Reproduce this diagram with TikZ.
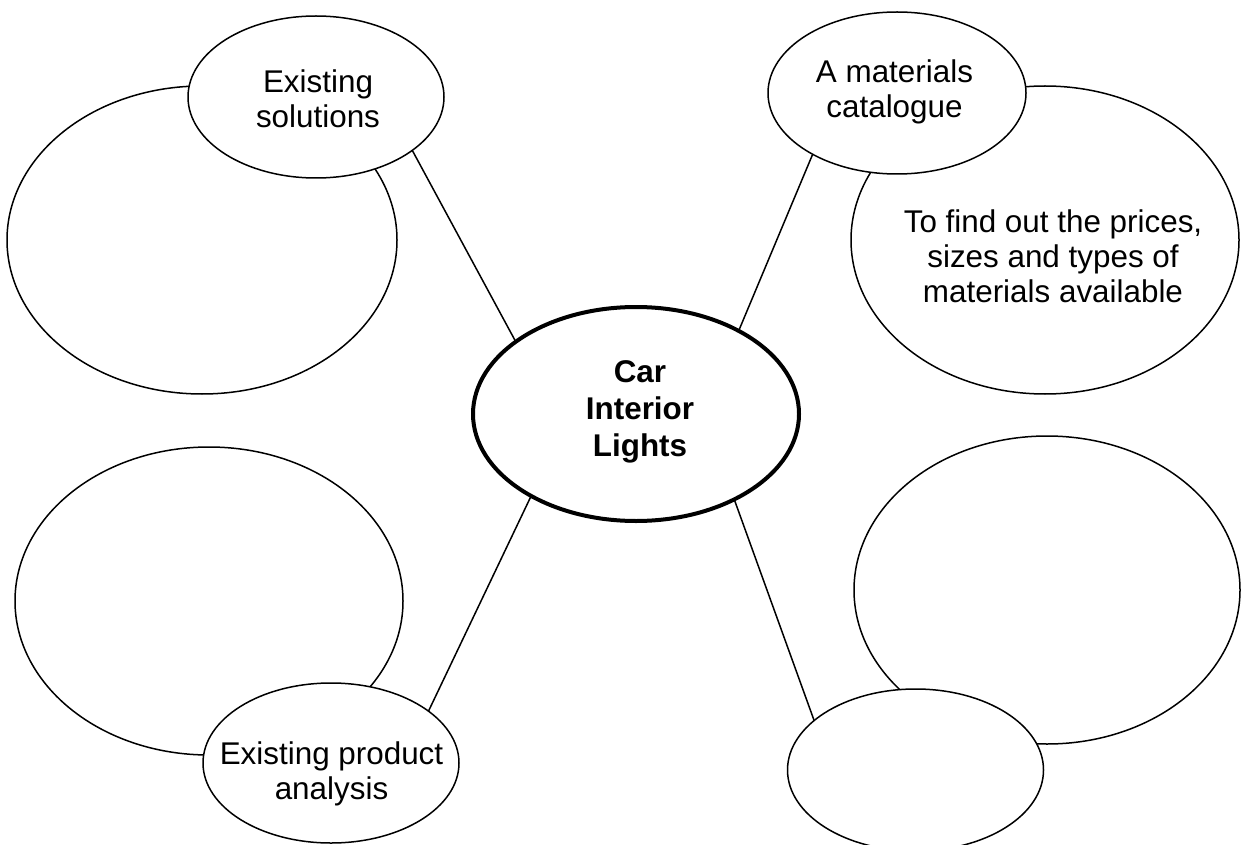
\documentclass[tikz,border=0pt]{standalone}
\usepackage{fontspec}
\setmainfont{Liberation Sans}
\usetikzlibrary{shapes.geometric}
\begin{document}
\begin{tikzpicture}[x=0.5pt,y=-0.5pt,
  bub/.style={ellipse,draw,line width=0.75pt,fill=white,inner sep=0pt,outer sep=0pt},
  hub/.style={bub,line width=2pt},
  lbl/.style={font=\fontsize{15.7}{17.4}\selectfont,align=center,inner sep=0pt},
  hublbl/.style={font=\fontsize{15.7}{18.5}\selectfont\bfseries,align=center,inner sep=0pt},
  link/.style={line width=0.75pt}]
\useasboundingbox (0,0) rectangle (1241,845);
% large blank bubbles
\node[bub,minimum width=195pt,minimum height=154pt] (bigtl) at (202,240) {};
\node[bub,minimum width=194pt,minimum height=154pt] (bigtr) at (1045,240) {};
\node[bub,minimum width=194pt,minimum height=154pt] (bigbl) at (209,601) {};
\node[bub,minimum width=193pt,minimum height=154pt] (bigbr) at (1047,590) {};
% small bubbles
\node[bub,minimum width=128pt,minimum height=81pt] (tl) at (316,97) {};
\node[bub,minimum width=129pt,minimum height=81pt] (tr) at (897,93) {};
\node[bub,minimum width=128pt,minimum height=80pt] (bl) at (331,763) {};
\node[bub,minimum width=128pt,minimum height=81pt] (br) at (915.5,770) {};
% centre
\node[hub,minimum width=163pt,minimum height=107pt] (c) at (636,414) {};
% connectors
\draw[link] (tl.-29) -- (c.149);
\draw[link] (tr.216) -- (c.39);
\draw[link] (c.218.5) -- (bl.28);
\draw[link] (c.-41.7) -- (br.154.4);
% texts
\node[lbl] (ttl) at (318,98.5) {Existing\\solutions};
\node[lbl] (ttr) at (894.5,91.5) {A materials\\catalogue};
\node[lbl] (tbl) at (331.5,773.5) {Existing product\\analysis};
\node[lbl] (tbigtr) at (1053,256) {To find out the prices,\\sizes and types of\\materials available};
\node[hublbl] (tc) at (640,412) {Car\\Interior\\Lights};
\end{tikzpicture}
\end{document}
